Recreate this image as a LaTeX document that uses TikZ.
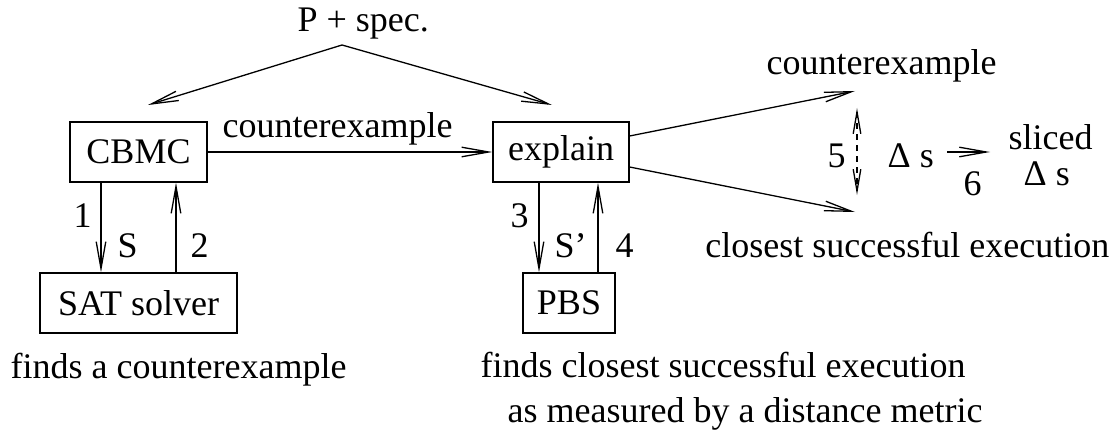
\documentclass[tikz,border=0pt]{standalone}
\usepackage{fontspec}
\setmainfont{Liberation Serif}
\usetikzlibrary{arrows.meta}

\begin{document}
\begin{tikzpicture}[
		x=0.5pt,y=-0.5pt,
		line width=0.65pt,
		every node/.style={font=\fontsize{18}{22}\selectfont},
		box/.style={draw,minimum height=30pt,inner sep=0pt},
		lbl/.style={anchor=base west,inner sep=0pt},
		arr/.style={-{Straight Barb[length=13.5pt,width=4.8pt]}},
		dblarr/.style={{Straight Barb[length=11pt,width=3.8pt]}-{Straight Barb[length=11pt,width=3.8pt]}}
		]
		\useasboundingbox (0,0) rectangle (1118,433);
		\node[lbl] (spec) at (297,32) {P + spec.};
		\node[box,minimum width=68.5pt] (cbmc) at (138.5,152) {CBMC};
		\node[box,minimum width=68pt] (explain) at (561,152) {explain};
		\node[box,minimum width=98.5pt] (sat) at (138.5,303) {SAT solver};
		\node[box,minimum width=46pt] (pbs) at (569,303) {PBS};
		\coordinate (ptop) at (342,45);
		\coordinate (pleft) at (148,105);
		\coordinate (pright) at (552,105);
		\draw[arr] (ptop) -- (pleft);
		\draw[arr] (ptop) -- (pright);
		\draw[arr] (cbmc.east) -- (explain.west);
		\node[lbl] (cex) at (222,137) {counterexample};
		\draw[arr] ([xshift=-18.75pt]cbmc.south) -- ([xshift=-18.75pt]sat.north);
		\draw[arr] ([xshift=18.75pt]sat.north) -- ([xshift=18.75pt]cbmc.south);
		\node[lbl] (one) at (73,227) {1};
		\node[lbl] (s) at (117,257) {S};
		\node[lbl] (two) at (190,257) {2};
		\draw[arr] ([xshift=-11pt]explain.south) -- ([xshift=-11pt]explain.south |- pbs.north);
		\draw[arr] ([xshift=18.5pt]explain.south |- pbs.north) -- ([xshift=18.5pt]explain.south);
		\node[lbl] (three) at (510,227) {3};
		\node[lbl] (sp) at (554,257) {S’};
		\node[lbl] (four) at (615,257) {4};
		\node[lbl] (satnote) at (10,378) {finds a counterexample};
		\node[lbl] (pbsnote) at (480,377) {finds closest successful execution};
		\node[lbl] (pbsnote2) at (507,422) {as measured by a distance metric};
		\coordinate (cup) at (855,91);
		\coordinate (cdown) at (855,212);
		\draw[arr] ([yshift=8pt]explain.east) -- (cup);
		\draw[arr] ([yshift=-7.5pt]explain.east) -- (cdown);
		\node[lbl] (cexout) at (766,75) {counterexample};
		\node[anchor=base east,inner sep=0pt] (succ) at (1110,257) {closest successful execution};
		\coordinate (dtop) at (857,108);
		\coordinate (dbot) at (857,195);
		\draw[dblarr,dash pattern=on 3pt off 2.5pt] (dtop) -- (dbot);
		\node[lbl] (five) at (827,167) {5};
		\node[lbl] (delta) at (887,167) {Δ s};
		\coordinate (dstart) at (947,152);
		\coordinate (dend) at (990,152);
		\draw[arr] (dstart) -- (dend);
		\node[lbl] (six) at (963,195) {6};
		\node[lbl,text depth=0pt] (sliced) at (1008,149) {sliced};
		\node[lbl,text height=12pt] (delta2) at (1023,185) {Δ s};
		\end{tikzpicture}
\end{document}
